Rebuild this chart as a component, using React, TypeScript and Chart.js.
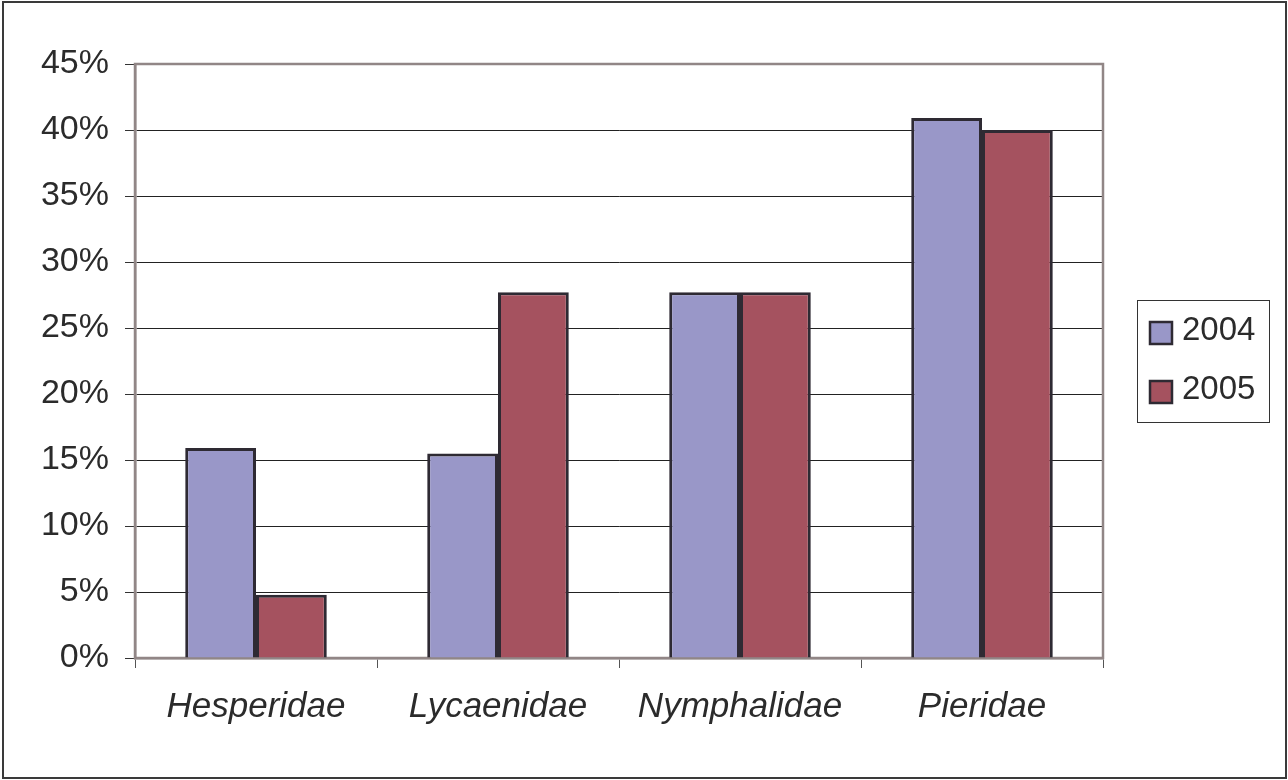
import React, { useEffect, useRef } from "react";
import { Chart, registerables } from "chart.js";

Chart.register(...registerables);

const categories = ["Hesperidae", "Lycaenidae", "Nymphalidae", "Pieridae"];
const seriesNames = ["2004", "2005"];
const values2004 = [15.9, 15.5, 27.7, 40.9];
const values2005 = [4.8, 27.7, 27.7, 40.0];
const yTickMax = 45;
const yTickStep = 5;

const colors2004 = "#9997c8";
const colors2005 = "#a5525f";
const barBorder = "#2e2a33";
const frameGray = "#918686";
const textColor = "#2b2b2b";
const fontFamily = "'Liberation Sans', Arial, Helvetica, sans-serif";

const framePlugin = {
  id: "frame",
  beforeDatasetsDraw(chart: any) {
    const { ctx, chartArea } = chart;
    ctx.save();
    ctx.strokeStyle = frameGray;
    ctx.lineWidth = 2.5;
    ctx.strokeRect(chartArea.left, chartArea.top, chartArea.right - chartArea.left, chartArea.bottom - chartArea.top);
    ctx.restore();
  },
  afterDraw(chart: any) {
    const { ctx, chartArea, width, height } = chart;
    ctx.save();
    // outer border
    ctx.strokeStyle = "#3a3a3a";
    ctx.lineWidth = 2;
    ctx.strokeRect(3, 2, width - 5, height - 4);
    // legend
    const ds = chart.data.datasets;
    const boxLeft = chartArea.right + 34;
    const boxW = 132;
    const boxH = 122;
    const cy = (chartArea.top + chartArea.bottom) / 2;
    const boxTop = Math.round(cy - boxH / 2);
    ctx.strokeStyle = "#333";
    ctx.lineWidth = 1;
    ctx.strokeRect(boxLeft + 0.5, boxTop + 0.5, boxW, boxH);
    ctx.font = `33px ${fontFamily}`;
    ctx.textBaseline = "middle";
    ctx.textAlign = "left";
    ds.forEach((d: any, i: number) => {
      const rowY = boxTop + 33 + i * 59;
      ctx.fillStyle = d.backgroundColor;
      ctx.fillRect(boxLeft + 13, rowY - 11, 22, 22);
      ctx.strokeStyle = barBorder;
      ctx.lineWidth = 2.5;
      ctx.strokeRect(boxLeft + 13, rowY - 11, 22, 22);
      ctx.fillStyle = textColor;
      ctx.fillText(d.label, boxLeft + 45, rowY - 2);
    });
    ctx.restore();
  },
};

export default function App() {
  const ref = useRef<HTMLCanvasElement>(null);
  useEffect(() => {
    if (!ref.current) return;
    const chart = new Chart(ref.current, {
      type: "bar",
      data: {
        labels: categories,
        datasets: [
          {
            label: seriesNames[0],
            data: values2004,
            backgroundColor: colors2004,
            borderColor: barBorder,
            borderWidth: 3,
          },
          {
            label: seriesNames[1],
            data: values2005,
            backgroundColor: colors2005,
            borderColor: barBorder,
            borderWidth: 3,
          },
        ],
      },
      options: {
        responsive: false,
        animation: false,
        devicePixelRatio: 1,
        layout: { padding: { left: 0, top: 64, right: 185, bottom: 0 } },
        datasets: { bar: { barPercentage: 1, categoryPercentage: 0.585 } },
        plugins: { legend: { display: false }, tooltip: { enabled: false } },
        scales: {
          x: {
            offset: true,
            afterFit: (s: any) => {
              s.height = 122;
            },
            grid: {
              offset: true,
              drawOnChartArea: false,
              drawTicks: true,
              tickLength: 10,
              tickColor: "#555",
              color: "#555",
            },
            border: { display: true, color: frameGray, width: 2.5 },
            ticks: {
              color: textColor,
              padding: 18,
              font: { family: fontFamily, size: 35, style: "italic" },
            },
          },
          y: {
            min: 0,
            max: yTickMax,
            afterFit: (s: any) => {
              s.width = 135;
            },
            grid: {
              color: "#222",
              lineWidth: 1,
              drawTicks: true,
              tickLength: 10,
              tickColor: "#333",
            },
            border: { display: true, color: frameGray, width: 2.5 },
            ticks: {
              stepSize: yTickStep,
              color: textColor,
              padding: 16,
              font: { family: fontFamily, size: 34 },
              callback: (v: any) => `${v}%`,
            },
          },
        },
      },
      plugins: [framePlugin],
    });
    return () => chart.destroy();
  }, []);
  return (
    <div style={{ position: "fixed", left: 0, top: 0, width: 1288, height: 780, background: "#fff" }}>
      <canvas ref={ref} width={1288} height={780} style={{ display: "block" }} />
    </div>
  );
}
